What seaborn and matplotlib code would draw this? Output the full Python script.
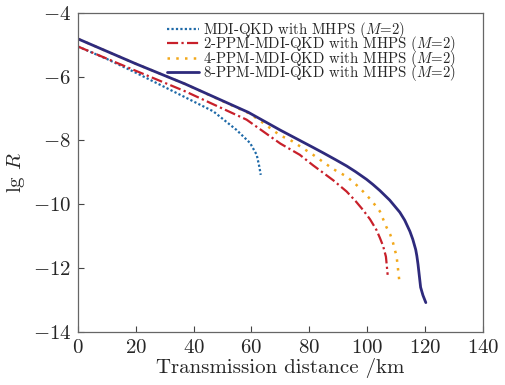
import numpy as np
import pandas as pd
import matplotlib
matplotlib.use("Agg")
import matplotlib.pyplot as plt
import seaborn as sns

sns.set_theme(style="white")
plt.rcParams["font.family"] = ["cmr10", "DejaVu Serif"]
plt.rcParams["mathtext.fontset"] = "cm"
plt.rcParams["axes.formatter.use_mathtext"] = True
plt.rcParams["axes.unicode_minus"] = True

# values (distance in km, lg R)
mdi_km = [0, 10, 20, 35.3, 46.8, 54.8, 59.5, 61.8, 62.7, 63.2]
mdi_lgR = [-5.06, -5.45, -5.88, -6.57, -7.09, -7.67, -8.08, -8.45, -8.82, -9.08]

ppm2_km = [0, 20, 37, 58.3, 70, 76.7, 81.3, 88.3, 92.9, 96, 98.6, 101, 103.2, 104.4, 105.5,
           106.5, 107.1]
ppm2_lgR = [-5.06, -5.82, -6.46, -7.35, -8.10, -8.45, -8.78, -9.25, -9.60, -9.90, -10.18,
            -10.47, -10.80, -11.05, -11.30, -11.64, -12.21]

ppm4_km = [0, 20, 37, 58.9, 62, 70, 73.3, 81.3, 88.3, 92.9, 95.8, 98.6, 101.5, 104.4, 106.7,
           108, 109, 110.2, 111.1]
ppm4_lgR = [-4.82, -5.60, -6.23, -7.14, -7.32, -7.85, -7.98, -8.45, -8.90, -9.13, -9.35, -9.60,
            -9.88, -10.22, -10.72, -10.95, -11.22, -11.64, -12.37]

ppm8_km = [0, 20, 37, 58.9, 70, 81.3, 85, 89, 92.9, 96, 99.8, 102, 104.4, 107.8, 111.3, 113,
           114.8, 115.8, 116.8, 117.2, 117.6, 118.0, 118.5, 119.3, 120.3]
ppm8_lgR = [-4.82, -5.60, -6.23, -7.12, -7.68, -8.22, -8.40, -8.60, -8.80, -8.98, -9.22, -9.38,
            -9.57, -9.87, -10.25, -10.50, -10.85, -11.10, -11.42, -11.62, -11.88, -12.20,
            -12.60, -12.85, -13.08]

labels = ["MDI-QKD with MHPS ($M$=2)",
          "2-PPM-MDI-QKD with MHPS ($M$=2)",
          "4-PPM-MDI-QKD with MHPS ($M$=2)",
          "8-PPM-MDI-QKD with MHPS ($M$=2)"]

fig = plt.figure(figsize=(5.05, 3.85), dpi=100)
ax = fig.add_axes([0.1545, 0.1377, 0.8015, 0.8293])

sns.lineplot(x=mdi_km, y=mdi_lgR, ax=ax, color="#1f6aa8", lw=1.6, ls=(0, (1, 1)),
             label=labels[0], sort=False)
sns.lineplot(x=ppm2_km, y=ppm2_lgR, ax=ax, color="#c8202a", lw=1.6, ls=(0, (5, 1.5, 1, 1.5)),
             label=labels[1], sort=False)
sns.lineplot(x=ppm4_km, y=ppm4_lgR, ax=ax, color="#f2a81a", lw=1.8, ls=(0, (1, 2.5)),
             label=labels[2], sort=False)
sns.lineplot(x=ppm8_km, y=ppm8_lgR, ax=ax, color="#2e2a7c", lw=2.0, ls="-",
             label=labels[3], sort=False)

ax.set_xlim(0, 140)
ax.set_ylim(-14, -4)
ax.set_xticks(np.arange(0, 141, 20))
ax.set_yticks(np.arange(-14, -3, 2))
ax.tick_params(bottom=True, left=True, direction="in", length=4, width=0.8,
               color="#444444", labelsize=15, pad=5)
for s in ax.spines.values():
    s.set_color("#666666")
    s.set_linewidth(0.9)

ax.set_xlabel("Transmission distance /km", fontsize=15, labelpad=1)
ax.set_ylabel("lg $R$", fontsize=15, labelpad=4)

ax.legend(loc="upper left", bbox_to_anchor=(0.212, 0.986), frameon=False, fontsize=10.7,
          handlelength=2.2, handletextpad=0.25, labelspacing=-0.38, borderpad=0.2,
          borderaxespad=0)

fig.savefig("out.png", dpi=100)
